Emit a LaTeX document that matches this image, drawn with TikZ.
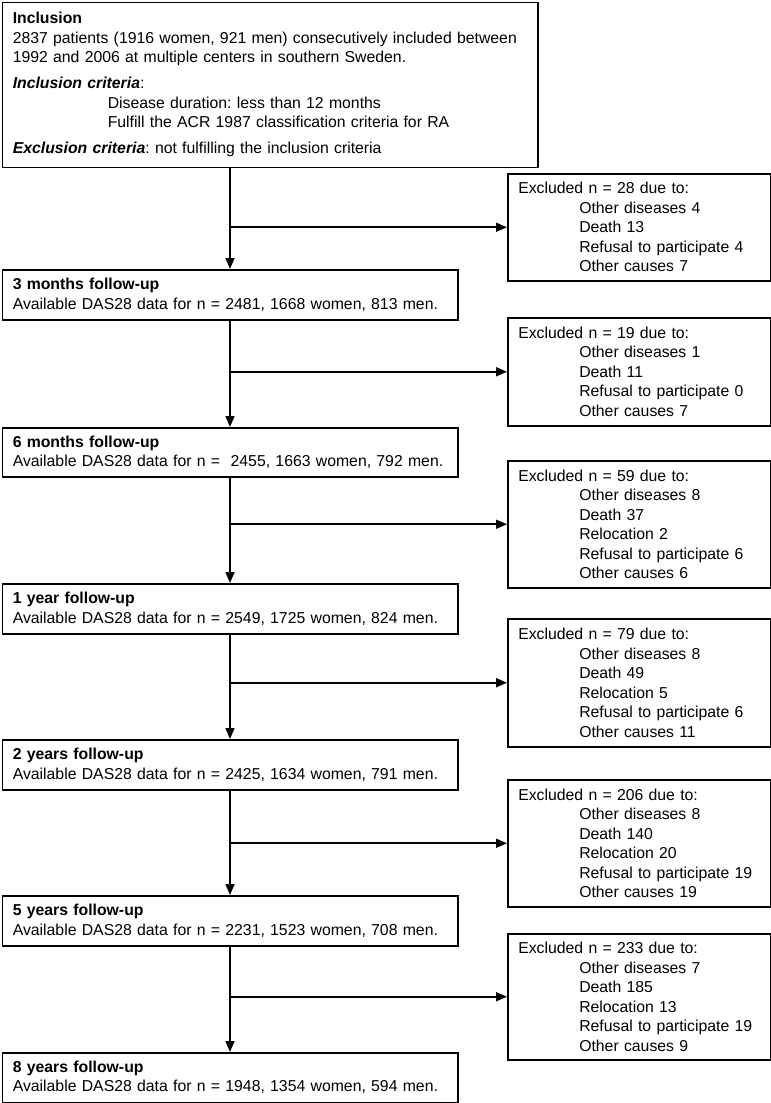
\documentclass[tikz,border=0pt]{standalone}
\usepackage{fontspec}
\setmainfont{Liberation Sans}
\usetikzlibrary{arrows.meta}
\begin{document}
\begin{tikzpicture}[x=1pt,y=1pt,
  every node/.style={font=\fontsize{15.8}{19.5}\selectfont\frenchspacing},
  bx/.style={draw, line width=1.5pt, anchor=north west, align=left, inner ysep=0pt, inner xsep=10.5pt},
  topbox/.style={bx, text width=514.5pt, minimum height=165pt},
  flowbox/.style={bx, text width=434.5pt, minimum height=#1},
  exbox/.style={bx, text width=241.5pt, minimum height=#1},
  arr/.style={line width=1.7pt, -{Triangle[length=11pt,width=9pt]}}]
\useasboundingbox (0,0) rectangle (771,-1103);
\fill[white] (0,0) rectangle (771,-1103);

\node[topbox] (top) at (1.5,-1.5) {\textbf{Inclusion}\\
\mbox{2837 patients (1916 women, 921 men) consecutively included between}\\
\mbox{1992 and 2006 at multiple centers in southern Sweden.}\\[6.5pt]
\textbf{\textit{Inclusion criteria}}:\\
\hspace*{95pt}\mbox{Disease duration: less than 12 months}\\
\hspace*{95pt}\mbox{Fulfill the ACR 1987 classification criteria for RA}\\[6.5pt]
\mbox{\textbf{\textit{Exclusion criteria}}: not fulfilling the inclusion criteria}};

\node[flowbox=50pt] (m3) at (1.5,-269) {\textbf{3 months follow-up}\\\mbox{Available DAS28 data for n = 2481, 1668 women, 813 men.}};
\node[flowbox=49pt] (m6) at (1.5,-427) {\textbf{6 months follow-up}\\\mbox{Available DAS28 data for n = \ 2455, 1663 women, 792 men.}};
\node[flowbox=50pt] (y1) at (1.5,-583) {\textbf{1 year follow-up}\\\mbox{Available DAS28 data for n = 2549, 1725 women, 824 men.}};
\node[flowbox=50pt] (y2) at (1.5,-739) {\textbf{2 years follow-up}\\\mbox{Available DAS28 data for n = 2425, 1634 women, 791 men.}};
\node[flowbox=50pt] (y5) at (1.5,-895) {\textbf{5 years follow-up}\\\mbox{Available DAS28 data for n = 2231, 1523 women, 708 men.}};
\node[flowbox=49.5pt] (y8) at (1.5,-1052) {\textbf{8 years follow-up}\\\mbox{Available DAS28 data for n = 1948, 1354 women, 594 men.}};

\node[exbox=107pt] (e1) at (507,-173) {Excluded n = 28 due to:\\
\hspace*{61pt}Other diseases 4\\
\hspace*{61pt}Death 13\\
\hspace*{61pt}Refusal to participate 4\\
\hspace*{61pt}Other causes 7};
\node[exbox=108pt] (e2) at (507,-317) {Excluded n = 19 due to:\\
\hspace*{61pt}Other diseases 1\\
\hspace*{61pt}Death 11\\
\hspace*{61pt}Refusal to participate 0\\
\hspace*{61pt}Other causes 7};
\node[exbox=127pt] (e3) at (507,-460) {Excluded n = 59 due to:\\
\hspace*{61pt}Other diseases 8\\
\hspace*{61pt}Death 37\\
\hspace*{61pt}Relocation 2\\
\hspace*{61pt}Refusal to participate 6\\
\hspace*{61pt}Other causes 6};
\node[exbox=128pt] (e4) at (507,-618) {Excluded n = 79 due to:\\
\hspace*{61pt}Other diseases 8\\
\hspace*{61pt}Death 49\\
\hspace*{61pt}Relocation 5\\
\hspace*{61pt}Refusal to participate 6\\
\hspace*{61pt}Other causes 11};
\node[exbox=127pt] (e5) at (507,-779) {Excluded n = 206 due to:\\
\hspace*{61pt}Other diseases 8\\
\hspace*{61pt}Death 140\\
\hspace*{61pt}Relocation 20\\
\hspace*{61pt}\mbox{Refusal to participate 19}\\
\hspace*{61pt}Other causes 19};
\node[exbox=126pt] (e6) at (507,-933) {Excluded n = 233 due to:\\
\hspace*{61pt}Other diseases 7\\
\hspace*{61pt}Death 185\\
\hspace*{61pt}Relocation 13\\
\hspace*{61pt}\mbox{Refusal to participate 19}\\
\hspace*{61pt}Other causes 9};

\draw[arr] (top.south -| m3.north) -- (m3.north);
\draw[arr] (m3.north |- e1.west) -- (e1.west);
\draw[arr] (m3.south) -- (m6.north);
\draw[arr] (m3.south |- e2.west) -- (e2.west);
\draw[arr] (m6.south) -- (y1.north);
\draw[arr] (m6.south |- e3.west) -- (e3.west);
\draw[arr] (y1.south) -- (y2.north);
\draw[arr] (y1.south |- e4.west) -- (e4.west);
\draw[arr] (y2.south) -- (y5.north);
\draw[arr] (y2.south |- e5.west) -- (e5.west);
\draw[arr] (y5.south) -- (y8.north);
\draw[arr] (y5.south |- e6.west) -- (e6.west);
\end{tikzpicture}
\end{document}
